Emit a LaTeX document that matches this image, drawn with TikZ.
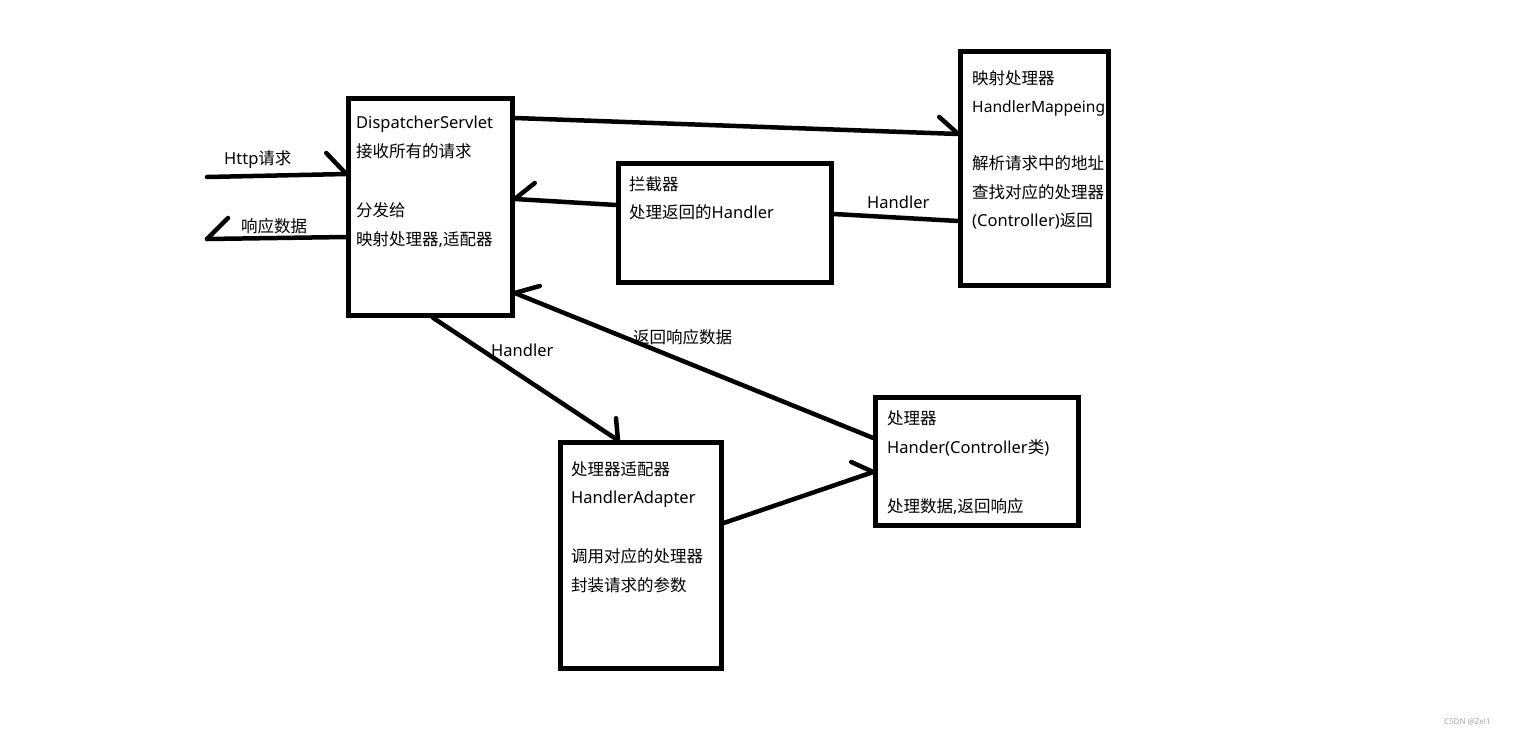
\documentclass[tikz,border=0pt]{standalone}
\usepackage{fontspec}
\setmainfont{Noto Sans}
\newfontfamily\cjk{Noto Sans CJK SC}
\usetikzlibrary{calc}
\begin{document}
\begin{tikzpicture}[x=1pt,y=-1pt,
  box/.style={draw=black,line width=4.5pt,minimum width=#1,inner sep=0pt,rectangle},
  conn/.style={line width=4.5pt,line cap=round,draw=black},
  txt/.style={anchor=base west,inner sep=0pt,font=\fontsize{16.5}{20}\selectfont},
  wmark/.style={anchor=base west,inner sep=0pt,text=gray!70,font=\fontsize{8}{10}\selectfont}]
\fill[white] (0,0) rectangle (1513,734);
\useasboundingbox (0,0) rectangle (1513,734);
% boxes
\node[box=164pt,minimum height=217pt] (disp) at (430.5,207) {};
\node[box=213pt,minimum height=119pt] (inter) at (725,223) {};
\node[box=148pt,minimum height=234pt] (map) at (1034.5,168.5) {};
\node[box=161pt,minimum height=226pt] (adapt) at (641,555.5) {};
\node[box=203pt,minimum height=128pt] (hand) at (977,461.5) {};
% texts in boxes
\node[txt] (d1) at (356,128) {DispatcherServlet};
\node[txt] (d2) at (356,157) {\cjk 接收所有的请求};
\node[txt] (d3) at (356,216) {\cjk 分发给};
\node[txt] (d4) at (356,245) {{\cjk 映射处理器},{\cjk 适配器}};
\node[txt] (i1) at (629,190) {\cjk 拦截器};
\node[txt] (i2) at (629,218) {{\cjk 处理返回的}Handler};
\node[txt] (m1) at (972,84) {\cjk 映射处理器};
\node[txt,font=\fontsize{15.6}{20}\selectfont] (m2) at (972,112) {HandlerMappeing};
\node[txt] (m3) at (972,169) {\cjk 解析请求中的地址};
\node[txt] (m4) at (972,198) {\cjk 查找对应的处理器};
\node[txt] (m5) at (972,226) {(Controller){\cjk 返回}};
\node[txt] (a1) at (571,475) {\cjk 处理器适配器};
\node[txt] (a2) at (571,503) {HandlerAdapter};
\node[txt] (a3) at (571,562) {\cjk 调用对应的处理器};
\node[txt] (a4) at (571,591) {\cjk 封装请求的参数};
\node[txt] (h1) at (887,424) {\cjk 处理器};
\node[txt] (h2) at (887,453) {Hander(Controller{\cjk 类})};
\node[txt] (h3) at (887,512) {{\cjk 处理数据},{\cjk 返回响应}};
% connector labels
\node[txt] (lhttp) at (224,164) {Http{\cjk 请求}};
\node[txt] (lresp) at (241,232) {\cjk 响应数据};
\node[txt] (lh1) at (867,208) {Handler};
\node[txt] (lh2) at (491,356) {Handler};
\node[txt] (lret) at (633,343) {\cjk 返回响应数据};
\node[wmark] (wm) at (1444,724) {CSDN @Zel1};
% free ends
\coordinate (httpin) at (207,177);
\coordinate (respout) at (207,239);
% connectors
\draw[conn] (httpin) -- (disp.west |- 0,174);
\draw[conn] (disp.west |- 0,174) -- ++(-20,-21);
\draw[conn] (disp.west |- 0,237) -- (respout);
\draw[conn] (respout) -- ++(21,-21);
\draw[conn] (disp.east |- 0,118) -- (map.west |- 0,134);
\draw[conn] (map.west |- 0,134) -- ++(-19,-17);
\draw[conn] (inter.west |- 0,205) -- (disp.east |- 0,199);
\draw[conn] (disp.east |- 0,199) -- ++(20,-16);
\draw[conn] (inter.east |- 0,214) -- (map.west |- 0,221);
\draw[conn] (disp.south -| 433,0) -- (adapt.north -| 618,0);
\draw[conn] (adapt.north -| 618,0) -- ++(-2,-22);
\draw[conn] (hand.west |- 0,438) -- (disp.east |- 0,293);
\draw[conn] (disp.east |- 0,293) -- ++(25,-7);
\draw[conn] (adapt.east |- 0,523) -- (hand.west |- 0,472);
\draw[conn] (hand.west |- 0,472) -- ++(-22,-10);
\end{tikzpicture}
\end{document}
